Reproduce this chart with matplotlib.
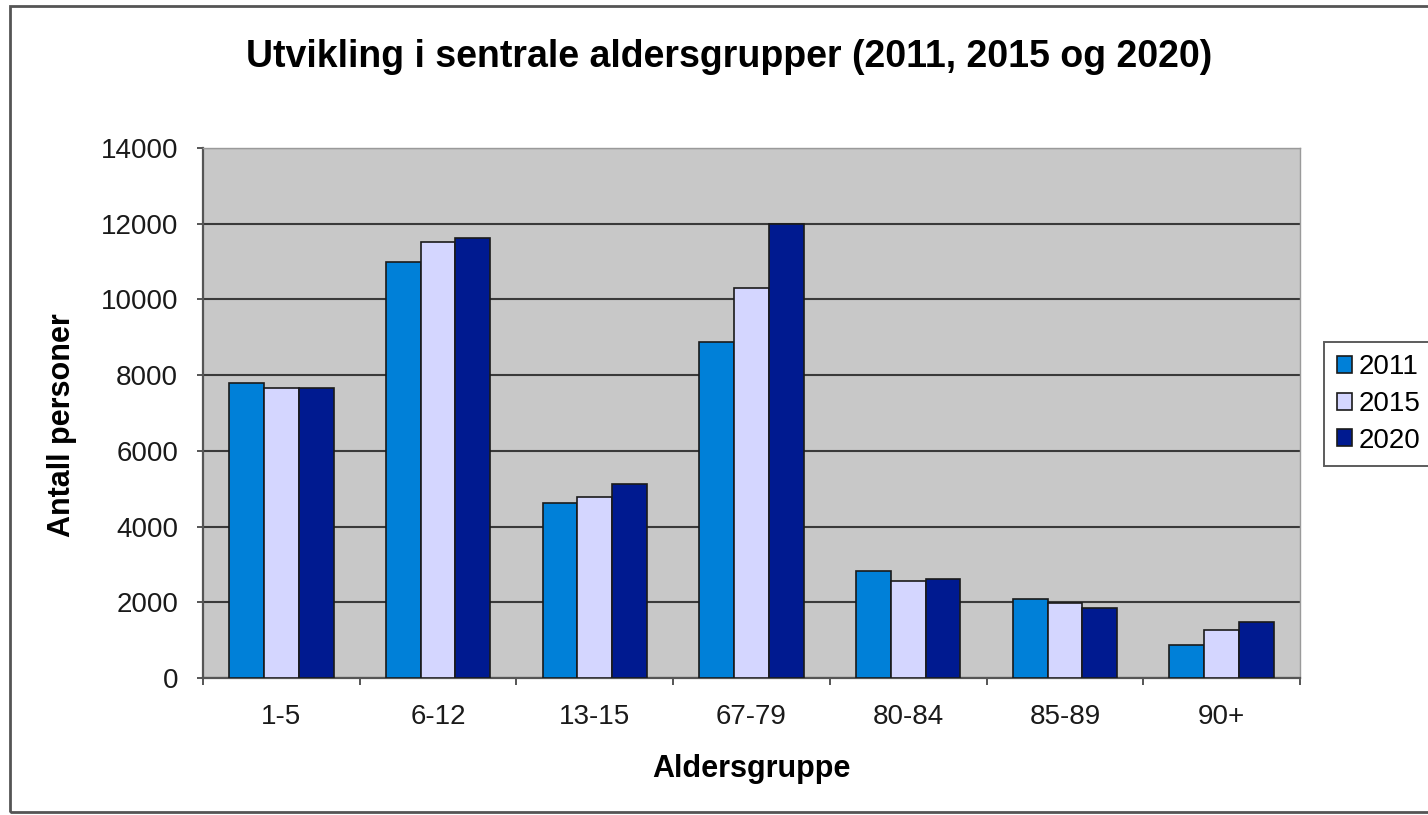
import matplotlib
matplotlib.use("Agg")
import matplotlib.pyplot as plt
import numpy as np
from matplotlib.patches import Rectangle

categories = ["1-5", "6-12", "13-15", "67-79", "80-84", "85-89", "90+"]
series_names = ["2011", "2015", "2020"]
values_2011 = [7790, 10990, 4620, 8870, 2830, 2090, 880]
values_2015 = [7670, 11510, 4780, 10300, 2570, 1970, 1280]
values_2020 = [7660, 11630, 5120, 12000, 2610, 1860, 1470]
yticks = [0, 2000, 4000, 6000, 8000, 10000, 12000, 14000]

colors = ["#0080D8", "#D4D6FF", "#001A90"]

plt.rcParams['font.family'] = ['Liberation Sans', 'DejaVu Sans']

fig = plt.figure(figsize=(14.28, 8.15), dpi=100)
ax = fig.add_axes([203/1428, 1-678/815, (1300-203)/1428, (678-148)/815])
ax.set_facecolor("#C8C8C8")

x = np.arange(len(categories))
w = 1/4.5
for i, (vals, name) in enumerate(zip([values_2011, values_2015, values_2020], series_names)):
    ax.bar(x + (i-1)*w, vals, width=w, color=colors[i], edgecolor="#1a1a1a",
           linewidth=1.2, label=name, zorder=3)

ax.set_xlim(-0.5, len(categories)-0.5)
ax.set_ylim(0, 14000)
ax.set_yticks(yticks)
ax.set_yticklabels([str(v) for v in yticks], fontsize=20, color="#1a1a1a")
ax.yaxis.grid(True, color="#3a3a3a", linewidth=1.5, zorder=1)
ax.set_axisbelow(True)

ax.set_xticks(x)
ax.set_xticklabels(categories, fontsize=20, color="#1a1a1a")
ax.tick_params(axis='x', length=0, pad=19)
ax.set_xticks(np.arange(-0.5, len(categories)), minor=True)
ax.tick_params(axis='x', which='minor', length=5, width=1.4, color="#555555", direction='out')
ax.tick_params(axis='y', length=4, width=1.4, color="#555555", pad=14)

for s in ['top', 'right']:
    ax.spines[s].set_color("#9a9a9a")
    ax.spines[s].set_linewidth(1.0)
for s in ['left', 'bottom']:
    ax.spines[s].set_color("#555555")
    ax.spines[s].set_linewidth(1.6)

ax.set_xlabel("Aldersgruppe", fontsize=22, fontweight='bold', labelpad=17)
ax.set_ylabel("Antall personer", fontsize=22, fontweight='bold')
ax.yaxis.set_label_coords(-126/1097, (678-425)/530)

fig.text(729/1428, 1-57/815, "Utvikling i sentrale aldersgrupper (2011, 2015 og 2020)",
         ha='center', va='center', fontsize=27, fontweight='bold')

leg = fig.legend(loc='upper left', bbox_to_anchor=(1324/1428, 1-342/815),
                 fontsize=20, frameon=True, fancybox=False, edgecolor="#333333",
                 handlelength=0.55, handleheight=0.55, handletextpad=0.25,
                 borderpad=0.45, labelspacing=0.38, borderaxespad=0)
leg.get_frame().set_linewidth(1.4)

fig.patches.append(Rectangle((10/1428, 1-812/815), 1.2, (812-6)/815,
                             transform=fig.transFigure, fill=False,
                             edgecolor="#555555", linewidth=2.0))

fig.savefig("out.png", dpi=100)
